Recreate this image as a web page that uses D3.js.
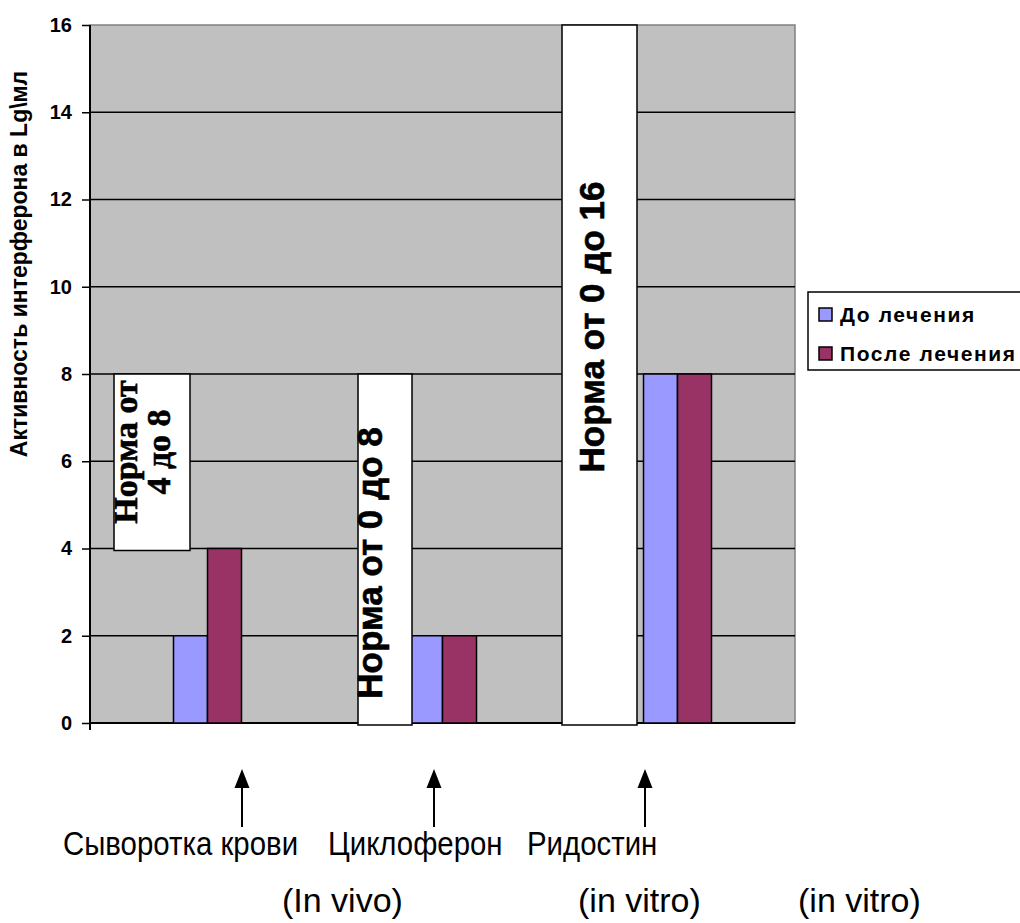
<!DOCTYPE html>
<html>
<head>
<meta charset="utf-8">
<script src="https://cdn.jsdelivr.net/npm/d3@7/dist/d3.min.js"></script>
<style>
  html, body { margin: 0; padding: 0; background: #fff; }
  svg { display: block; }
</style>
</head>
<body>
<svg id="chart" width="1020" height="923"></svg>
<script>
// Interferon activity, Lg/ml
const categories = ["Сыворотка крови", "Циклоферон", "Ридостин"];
const seriesNames = ["До лечения", "После лечения"];
const beforeValues = [2, 2, 8];
const afterValues = [4, 2, 8];
const seriesColors = ["#9999FF", "#993366"];
const yTicks = [0, 2, 4, 6, 8, 10, 12, 14, 16];
const yTitle = "Активность интерферона в Lg\\мл";

// Normal ranges shown as boxes next to each group
const normLow = [4, 0, 0];
const normHigh = [8, 8, 16];
const normLines = [["Норма от", "4 до 8"], ["Норма от 0 до 8"], ["Норма от 0 до 16"]];

// Notes under the chart
const methodLabels = ["(In vivo)", "(in vitro)", "(in vitro)"];

const SANS = "'Liberation Sans', Arial, sans-serif";
const SERIF = "'Liberation Serif', 'Times New Roman', serif";

const svg = d3.select("#chart").style("font-family", SANS);
const plot = { left: 90, right: 795, top: 25, bottom: 723 };

const y = d3.scaleLinear().domain([0, 16]).range([plot.bottom, plot.top]);
const x0 = d3.scaleBand().domain(categories).range([plot.left, plot.right]).padding(0);
const x1 = d3.scaleBand().domain(seriesNames).range([0, x0.bandwidth()])
  .paddingInner(0).paddingOuter(2.456);

// plot background
svg.append("rect")
  .attr("x", plot.left).attr("y", plot.top)
  .attr("width", plot.right - plot.left).attr("height", plot.bottom - plot.top)
  .attr("fill", "#C0C0C0").attr("stroke", "#808080").attr("stroke-width", 1.5);

// gridlines
svg.append("g").selectAll("line")
  .data(yTicks.filter(t => t > 0 && t < 16))
  .join("line")
  .attr("x1", plot.left).attr("x2", plot.right)
  .attr("y1", d => y(d)).attr("y2", d => y(d))
  .attr("stroke", "#000").attr("stroke-width", 1.5);

// y axis
const yAxis = d3.axisLeft(y).tickValues(yTicks).tickSize(8).tickPadding(10);
const gy = svg.append("g").attr("transform", `translate(${plot.left},0)`).call(yAxis);
gy.attr("font-family", null).attr("font-size", null);
gy.select(".domain").remove();
gy.selectAll(".tick line").attr("stroke", "#000").attr("stroke-width", 1.5);
gy.selectAll(".tick text")
  .attr("fill", "#000")
  .style("font-family", SANS)
  .style("font-size", "20px").style("font-weight", "bold");
svg.append("line")
  .attr("x1", plot.left).attr("x2", plot.left)
  .attr("y1", plot.top).attr("y2", plot.bottom + 7)
  .attr("stroke", "#000").attr("stroke-width", 2);

// x axis line
svg.append("line")
  .attr("x1", plot.left).attr("x2", plot.right)
  .attr("y1", plot.bottom).attr("y2", plot.bottom)
  .attr("stroke", "#000").attr("stroke-width", 2);

// y axis title
svg.append("text")
  .attr("transform", "translate(27,264) rotate(-90)")
  .attr("text-anchor", "middle")
  .style("font-size", "23px").style("font-weight", "bold")
  .text(yTitle);

// bars
const rows = categories.map((c, i) => ({ cat: c, vals: [beforeValues[i], afterValues[i]] }));
const groups = svg.append("g").selectAll("g")
  .data(rows).join("g")
  .attr("transform", d => `translate(${x0(d.cat)},0)`);
groups.selectAll("rect")
  .data(d => d.vals.map((v, j) => ({ name: seriesNames[j], v, j })))
  .join("rect")
  .attr("x", d => x1(d.name))
  .attr("width", x1.bandwidth())
  .attr("y", d => y(d.v))
  .attr("height", d => y(0) - y(d.v))
  .attr("fill", d => seriesColors[d.j])
  .attr("stroke", "#000").attr("stroke-width", 1.5);

// norm boxes: horizontal placement inside each category band
const boxLayout = [
  { dx: 24, w: 76, font: SERIF, size: 34, base: [47, 80], cy: 452 },
  { dx: 33, w: 54, font: SANS, size: 35, base: [57], cy: 563 },
  { dx: 2, w: 75, font: SANS, size: 35, base: [44], cy: 327 }
];
categories.forEach((c, i) => {
  const L = boxLayout[i];
  const bx = x0(c) + L.dx;
  svg.append("rect")
    .attr("x", bx).attr("y", y(normHigh[i]))
    .attr("width", L.w).attr("height", y(normLow[i]) - y(normHigh[i]) + 2)
    .attr("fill", "#fff").attr("stroke", "#000").attr("stroke-width", 1.5);
  normLines[i].forEach((line, k) => {
    svg.append("text")
      .attr("transform", `translate(${x0(c) + L.base[k]},${L.cy}) rotate(-90)`)
      .attr("text-anchor", "middle")
      .style("font-family", L.font)
      .style("font-size", L.size + "px").style("font-weight", "bold")
      .attr("fill", "#000").attr("stroke", "#000").attr("stroke-width", 0.6)
      .text(line);
  });
});

// legend
const legend = svg.append("g");
legend.append("rect")
  .attr("x", 808).attr("y", 292).attr("width", 240).attr("height", 78)
  .attr("fill", "#fff").attr("stroke", "#000").attr("stroke-width", 1.5);
seriesNames.forEach((s, i) => {
  legend.append("rect")
    .attr("x", 819).attr("y", 308 + i * 39).attr("width", 13).attr("height", 13)
    .attr("fill", seriesColors[i]).attr("stroke", "#000").attr("stroke-width", 1.5);
  legend.append("text")
    .attr("x", 840).attr("y", 322 + i * 39)
    .style("font-size", "21px").style("font-weight", "bold")
    .style("letter-spacing", "1.6px")
    .text(s);
});

// arrows pointing to the categories, with names and method notes
const arrowX = [242, 434, 645];
const nameX = [63, 328, 527];
const methodX = [282, 578, 798];
categories.forEach((c, i) => {
  svg.append("line")
    .attr("x1", arrowX[i]).attr("x2", arrowX[i])
    .attr("y1", 827).attr("y2", 786)
    .attr("stroke", "#000").attr("stroke-width", 2);
  svg.append("path")
    .attr("d", `M${arrowX[i]},769L${arrowX[i] - 7.5},788L${arrowX[i] + 7.5},788Z`)
    .attr("fill", "#000");
  svg.append("text")
    .attr("transform", `translate(${nameX[i]},855) scale(0.98,1.08)`)
    .style("font-size", "30px")
    .text(c);
  svg.append("text")
    .attr("x", methodX[i]).attr("y", 912)
    .style("font-size", "34px")
    .text(methodLabels[i]);
});
</script>
</body>
</html>
